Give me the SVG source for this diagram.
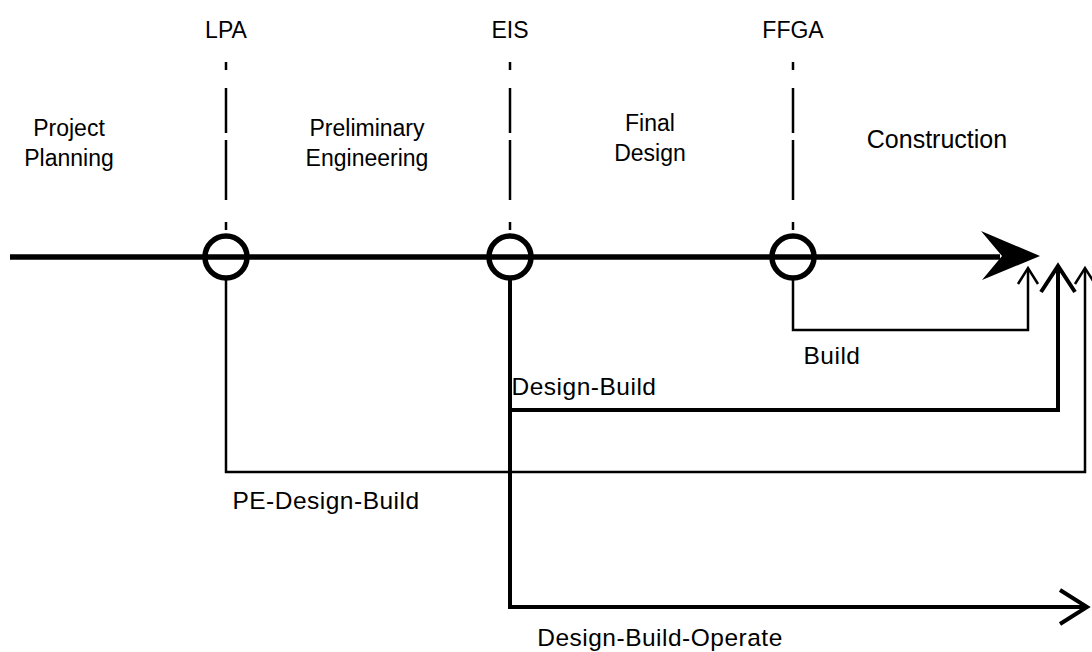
<svg xmlns="http://www.w3.org/2000/svg" width="1092" height="652" viewBox="0 0 1092 652">
<style>
text{font-family:"Liberation Sans",Arial,sans-serif;font-size:23px;fill:#000;text-anchor:middle}
.rl{font-size:24.5px;letter-spacing:0.5px}
.con{font-size:25px}
.dash{stroke:#000;stroke-width:2.5;stroke-dasharray:8 18 45 7 60 22;fill:none}
.thin{stroke:#000;stroke-width:2.5;fill:none}
.thick{stroke:#000;stroke-width:4;fill:none}
.ms{fill:none;stroke:#000;stroke-width:5.5}
</style>
<rect width="1092" height="652" fill="#fff"/>
<g id="labels-top">
<text x="226" y="38">LPA</text>
<text x="510" y="38">EIS</text>
<text x="793" y="38">FFGA</text>
</g>
<g id="phases">
<text x="69" y="136">Project</text><text x="69" y="166">Planning</text>
<text x="367" y="136">Preliminary</text><text x="367" y="166">Engineering</text>
<text x="650" y="131">Final</text><text x="650" y="161">Design</text>
<text class="con" x="937" y="148">Construction</text>
</g>
<g id="timeline">
<line x1="10" y1="257" x2="1000" y2="257" stroke="#000" stroke-width="5.5"/>
<path d="M1040,256 L981,231 L1002,256 L982,280 Z" fill="#000"/>
</g>
<g id="milestone-LPA"><line class="dash" x1="226" y1="62" x2="226" y2="234"/><circle class="ms" cx="226" cy="257" r="21"/></g>
<g id="milestone-EIS"><line class="dash" x1="510" y1="62" x2="510" y2="234"/><circle class="ms" cx="510" cy="257" r="21"/></g>
<g id="milestone-FFGA"><line class="dash" x1="793" y1="62" x2="793" y2="234"/><circle class="ms" cx="793" cy="257" r="21"/></g>
<g id="connectors">
<path class="thin" d="M793,278 V330 H1028 V270"/>
<path class="thin" d="M1018,284 L1028,268 L1038,284"/>
<path class="thick" d="M510,278 V410 H1058 V268"/>
<path class="thick" d="M1041,292 L1058,266 L1075,292"/>
<path class="thin" d="M226,278 V472 H1085 V270"/>
<path class="thin" d="M1075,284 L1085,268 L1095,284"/>
<path class="thick" d="M510,410 V607 H1086"/>
<path class="thick" d="M1060,590 L1087,607 L1060,624"/>
</g>
<g id="route-labels">
<text class="rl" x="832" y="364">Build</text>
<text class="rl" x="584" y="395">Design-Build</text>
<text class="rl" x="326" y="509">PE-Design-Build</text>
<text class="rl" x="660" y="646">Design-Build-Operate</text>
</g>
</svg>
